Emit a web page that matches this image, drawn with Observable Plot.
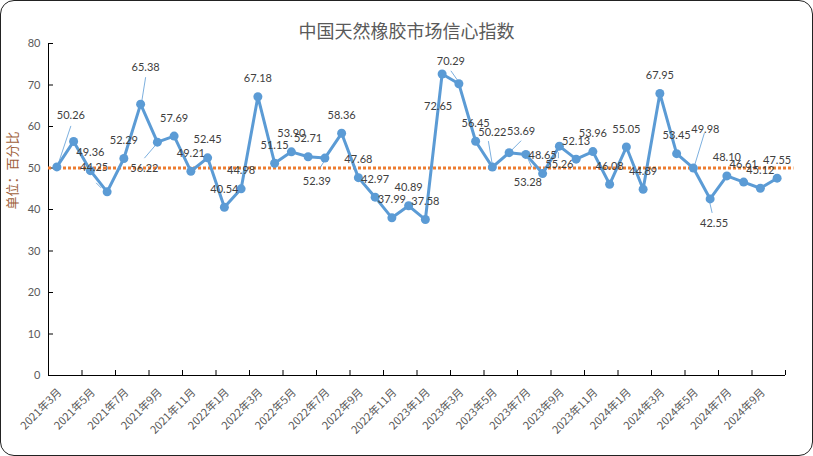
<!DOCTYPE html>
<html>
<head>
<meta charset="utf-8">
<script src="https://cdn.jsdelivr.net/npm/d3@7"></script>
<script src="https://cdn.jsdelivr.net/npm/@observablehq/plot@0.6"></script>
<style>
  html, body { margin: 0; padding: 0; background: #fff; }
  #wrap { position: relative; width: 813px; height: 456px; overflow: hidden; background: #fff; }
  #border { position: absolute; left: 0; top: 0; width: 811px; height: 454px; border: 1px solid #222; border-radius: 14px; pointer-events: none; }
  #title { position: absolute; left: 0; top: 18px; width: 813px; height: 24px; line-height: 24px; text-align: center;
           font-family: "Noto Sans CJK SC", sans-serif; font-size: 18px; color: #595959; }
  #chart { position: absolute; left: 0; top: 0; }
</style>
</head>
<body>
<div id="wrap">
  <div id="chart"></div>
  <div id="title">中国天然橡胶市场信心指数</div>
  <div id="border"></div>
</div>
<script>
// ---- data ----
const months = [
  "2021年3月","2021年4月","2021年5月","2021年6月","2021年7月","2021年8月","2021年9月","2021年10月","2021年11月","2021年12月",
  "2022年1月","2022年2月","2022年3月","2022年4月","2022年5月","2022年6月","2022年7月","2022年8月","2022年9月","2022年10月","2022年11月","2022年12月",
  "2023年1月","2023年2月","2023年3月","2023年4月","2023年5月","2023年6月","2023年7月","2023年8月","2023年9月","2023年10月","2023年11月","2023年12月",
  "2024年1月","2024年2月","2024年3月","2024年4月","2024年5月","2024年6月","2024年7月","2024年8月","2024年9月","2024年10月"
];
const values = [
  50.26, 56.4, 49.36, 44.25, 52.29, 65.38, 56.22, 57.69, 49.21, 52.45,
  40.54, 44.98, 67.18, 51.15, 53.90, 52.71, 52.39, 58.36, 47.68, 42.97, 37.99, 40.89,
  37.58, 72.65, 70.29, 56.45, 50.22, 53.69, 53.28, 48.65, 55.26, 52.13, 53.96, 46.08,
  55.05, 44.89, 67.95, 53.45, 49.98, 42.55, 48.10, 46.61, 45.12, 47.55
];
const unlabeled = [1];
const yTicks = [0, 10, 20, 30, 40, 50, 60, 70, 80];
const reference = 50;
const yTitle = "单位：百分比";

// ---- layout (pixels) ----
const W = 813, H = 456, ML = 48, MR = 28, MT = 43, MB = 81;
const pxPerCat = (W - ML - MR) / months.length;
const pxPerUnit = (H - MT - MB) / (yTicks[yTicks.length - 1] - yTicks[0]);
// label offsets relative to their point (px)
const labelOffset = {0:[14,-51], 3:[-13,-24], 5:[5,-37], 6:[-13,26], 16:[-8,23], 23:[-4,32], 24:[-8,-22],
                     26:[0,-35], 27:[12,-21], 28:[2,28], 30:[0,18], 38:[12,-39], 39:[4,25]};
const leaders = {0:[1,-2,14,-41], 3:[-11,-9,-6,-4], 5:[5,-27,1,-2], 6:[-13,16,-1,2], 16:[-5,10,0,2],
                 24:[-8,-13,-1,-3], 26:[-4,-26,0,-2], 27:[2,-2,12,-12], 28:[1,2,6,13], 30:[-1,6,-1,12],
                 38:[11,-35,1,-2], 39:[-1,1,2,14]};

const idx = values.map((d, i) => i);
const boundaries = d3.range(-0.5, months.length, 2);
const labelIdx = d3.range(0, months.length, 2);
const fmt = d3.format(".2f");
const blue = "#5b9bd5";

const labelMarks = idx.filter(i => !unlabeled.includes(i)).map(i => {
  const [dx, dy] = labelOffset[i] || [0, -18];
  return Plot.text([i], {x: d => d, y: d => values[d], text: d => fmt(values[d]), dx, dy,
    fill: "#404040", fontFamily: "Lato", fontSize: 11, lineAnchor: "middle"});
});
const leaderData = Object.entries(leaders).map(([k, o]) => ({i: +k, o}));
const leaderMark = Plot.link(leaderData, {
  x1: d => d.i + d.o[0] / pxPerCat, y1: d => values[d.i] - d.o[1] / pxPerUnit,
  x2: d => d.i + d.o[2] / pxPerCat, y2: d => values[d.i] - d.o[3] / pxPerUnit,
  stroke: blue, strokeWidth: 0.8
});

const chart = Plot.plot({
  width: W, height: H, marginLeft: ML, marginRight: MR, marginTop: MT, marginBottom: MB,
  x: {type: "linear", domain: [-0.5, months.length - 0.5]},
  y: {domain: [0, 80]},
  style: {fontFamily: "Lato", fontSize: "11px", background: "transparent", overflow: "visible"},
  marks: [
    Plot.axisY({ticks: yTicks, tickSize: 5, dx: 5, tickPadding: 8, stroke: "#000", fill: "#595959", fontSize: 11, label: null}),
    Plot.axisX({ticks: boundaries, tickSize: 5, dy: -5, tickFormat: () => "", stroke: "#000", label: null}),
    Plot.ruleX([-0.5], {stroke: "#000"}),
    Plot.ruleY([0], {stroke: "#000"}),
    Plot.text(labelIdx, {x: d => d, text: d => months[d], frameAnchor: "bottom", rotate: -45,
      textAnchor: "end", lineAnchor: "middle", dx: 3, dy: 15, fill: "#595959",
      fontFamily: "Noto Sans CJK SC", fontSize: 11}),
    Plot.text([yTitle], {frameAnchor: "left", rotate: -90, dx: -36, fill: "#a0603a",
      fontFamily: "Noto Sans CJK SC", fontSize: 13}),
    Plot.ruleY([reference], {x1: -0.5, x2: months.length, stroke: "#ed7d31", strokeWidth: 3, strokeDasharray: "3,2"}),
    leaderMark,
    Plot.line(idx, {x: d => d, y: d => values[d], stroke: blue, strokeWidth: 3, strokeLinejoin: "round"}),
    Plot.dot(idx, {x: d => d, y: d => values[d], r: 4.5, fill: blue}),
    ...labelMarks
  ]
});
document.getElementById("chart").appendChild(chart);
</script>
</body>
</html>
